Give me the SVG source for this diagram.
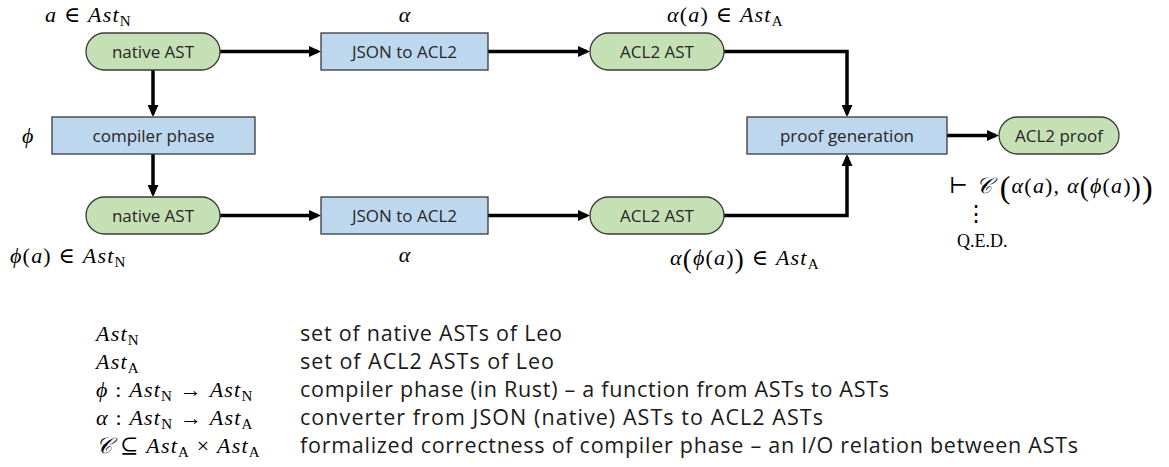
<svg xmlns="http://www.w3.org/2000/svg" width="1169" height="467" viewBox="0 0 1169 467">
  <style>
    .bg { fill: #ffffff; }
    .pill { fill: #C5E0B4; stroke: #3a3a3a; stroke-width: 1.3; }
    .box { fill: #BDD7EE; stroke: #3a3a3a; stroke-width: 1.3; }
    .lbl { font-family: "Open Sans", "Noto Sans", "DejaVu Sans", sans-serif; font-size: 17px; fill: #262626; text-anchor: middle; }
    .m { font-family: "Liberation Serif", "DejaVu Serif", serif; font-size: 22px; fill: #000; letter-spacing: 1.2px; }
    .i { font-style: italic; }
    .sub { font-size: 15px; font-style: normal; }
    .sym { font-family: "DejaVu Serif", "Liberation Serif", serif; font-style: normal; }
    .qed { font-family: "Liberation Serif", serif; font-size: 18px; fill: #000; }
    .leg { font-family: "Open Sans", "Noto Sans", "DejaVu Sans", sans-serif; font-size: 21.5px; fill: #1a1a1a; }
    .conn { fill: none; stroke: #000; stroke-width: 3.5; marker-end: url(#arrow); }
  </style>
  <defs>
    <marker id="arrow" viewBox="0 0 12 11" refX="9" refY="5.5" markerWidth="12" markerHeight="11" markerUnits="userSpaceOnUse" orient="auto">
      <path d="M0,0 L12,5.5 L0,11 z" fill="#000"/>
    </marker>
  </defs>
  <rect class="bg" x="0" y="0" width="1169" height="467"/>

  <!-- connectors -->
  <g id="connectors">
    <path class="conn" d="M220,51.5 H318"/>
    <path class="conn" d="M488,51.5 H587"/>
    <path class="conn" d="M724,51.5 H847 V114"/>
    <path class="conn" d="M153,70 V114"/>
    <path class="conn" d="M153,154 V194"/>
    <path class="conn" d="M220,215.5 H318"/>
    <path class="conn" d="M488,215.5 H587"/>
    <path class="conn" d="M724,215.5 H847 V157"/>
    <path class="conn" d="M947,135.5 H996"/>
  </g>

  <!-- nodes -->
  <g id="native-ast-top">
    <rect class="pill" x="86" y="33" width="134" height="37" rx="18.5"/>
    <text class="lbl" x="153" y="57.5">native AST</text>
  </g>
  <g id="json-to-acl2-top">
    <rect class="box" x="321" y="33" width="167" height="37"/>
    <text class="lbl" x="404.5" y="57.5">JSON to ACL2</text>
  </g>
  <g id="acl2-ast-top">
    <rect class="pill" x="590" y="33" width="134" height="37" rx="18.5"/>
    <text class="lbl" x="657" y="57.5">ACL2 AST</text>
  </g>
  <g id="compiler-phase">
    <rect class="box" x="52" y="117" width="203" height="37"/>
    <text class="lbl" x="153.5" y="141.5">compiler phase</text>
  </g>
  <g id="proof-generation">
    <rect class="box" x="747" y="117" width="200" height="37"/>
    <text class="lbl" x="847" y="141.5">proof generation</text>
  </g>
  <g id="acl2-proof">
    <rect class="pill" x="999" y="117" width="120" height="37" rx="18.5"/>
    <text class="lbl" x="1059" y="141.5">ACL2 proof</text>
  </g>
  <g id="native-ast-bottom">
    <rect class="pill" x="86" y="197" width="134" height="37" rx="18.5"/>
    <text class="lbl" x="153" y="221.5">native AST</text>
  </g>
  <g id="json-to-acl2-bottom">
    <rect class="box" x="321" y="197" width="167" height="37"/>
    <text class="lbl" x="404.5" y="221.5">JSON to ACL2</text>
  </g>
  <g id="acl2-ast-bottom">
    <rect class="pill" x="590" y="197" width="134" height="37" rx="18.5"/>
    <text class="lbl" x="657" y="221.5">ACL2 AST</text>
  </g>

  <!-- math annotations -->
  <g id="annotations">
    <text class="m" x="45" y="22"><tspan class="i">a</tspan> ∈ <tspan class="i">Ast</tspan><tspan class="sub" dy="4">N</tspan></text>
    <text class="m i" x="405" y="22" text-anchor="middle">α</text>
    <text class="m" x="667" y="22"><tspan class="i">α</tspan>(<tspan class="i">a</tspan>) ∈ <tspan class="i">Ast</tspan><tspan class="sub" dy="4">A</tspan></text>
    <text class="m i" x="22" y="143">ϕ</text>
    <text class="m" x="10" y="263"><tspan class="i">ϕ</tspan>(<tspan class="i">a</tspan>) ∈ <tspan class="i">Ast</tspan><tspan class="sub" dy="4">N</tspan></text>
    <text class="m i" x="405" y="262" text-anchor="middle">α</text>
    <text class="m" x="670" y="265"><tspan class="i">α</tspan><tspan font-size="27" y="268">(</tspan><tspan class="i" y="265">ϕ</tspan>(<tspan class="i">a</tspan>)<tspan font-size="27" y="268">)</tspan><tspan y="265"> ∈ </tspan><tspan class="i">Ast</tspan><tspan class="sub" dy="4">A</tspan></text>
    <text class="m" x="949" y="193"><tspan class="sym">⊢</tspan> <tspan class="i">𝒞</tspan> <tspan font-size="32" y="198">(</tspan><tspan class="i" y="193">α</tspan>(<tspan class="i">a</tspan>), <tspan class="i">α</tspan><tspan font-size="27" y="196">(</tspan><tspan class="i" y="193">ϕ</tspan>(<tspan class="i">a</tspan>)<tspan font-size="27" y="196">)</tspan><tspan font-size="32" y="198">)</tspan></text>
    <text class="m sym" x="977" y="221" text-anchor="middle" font-size="20">⋮</text>
    <text class="qed" x="957" y="247">Q.E.D.</text>
  </g>

  <!-- legend -->
  <g id="legend">
    <text class="m" x="96" y="341"><tspan class="i">Ast</tspan><tspan class="sub" dy="4">N</tspan></text>
    <text class="m" x="96" y="369"><tspan class="i">Ast</tspan><tspan class="sub" dy="4">A</tspan></text>
    <text class="m" x="96" y="397"><tspan class="i">ϕ</tspan> : <tspan class="i">Ast</tspan><tspan class="sub" dy="4">N</tspan><tspan dy="-4"> → </tspan><tspan class="i">Ast</tspan><tspan class="sub" dy="4">N</tspan></text>
    <text class="m" x="96" y="425"><tspan class="i">α</tspan> : <tspan class="i">Ast</tspan><tspan class="sub" dy="4">N</tspan><tspan dy="-4"> → </tspan><tspan class="i">Ast</tspan><tspan class="sub" dy="4">A</tspan></text>
    <text class="m" x="96" y="453"><tspan class="i">𝒞</tspan> ⊆ <tspan class="i">Ast</tspan><tspan class="sub" dy="4">A</tspan><tspan dy="-4"> × </tspan><tspan class="i">Ast</tspan><tspan class="sub" dy="4">A</tspan></text>
    <text class="leg" x="300" y="341" textLength="262" lengthAdjust="spacing">set of native ASTs of Leo</text>
    <text class="leg" x="300" y="369" textLength="254" lengthAdjust="spacing">set of ACL2 ASTs of Leo</text>
    <text class="leg" x="300" y="397" textLength="589" lengthAdjust="spacing">compiler phase (in Rust) – a function from ASTs to ASTs</text>
    <text class="leg" x="300" y="425" textLength="523" lengthAdjust="spacing">converter from JSON (native) ASTs to ACL2 ASTs</text>
    <text class="leg" x="300" y="453" textLength="778" lengthAdjust="spacing">formalized correctness of compiler phase – an I/O relation between ASTs</text>
  </g>
</svg>
